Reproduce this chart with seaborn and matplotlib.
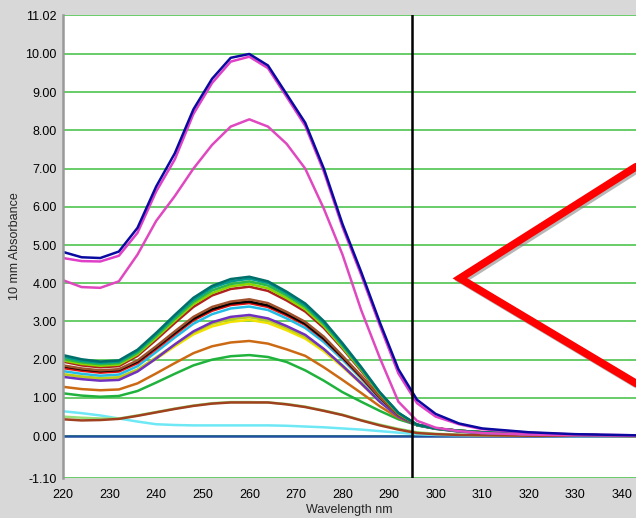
import numpy as np
import pandas as pd
import matplotlib
matplotlib.use("Agg")
import matplotlib.pyplot as plt
import matplotlib.patheffects as pe
import seaborn as sns

wavelength = [220, 224, 228, 232, 236, 240, 244, 248, 252, 256, 260, 264, 268,
              272, 276, 280, 284, 288, 292, 296, 300, 305, 310, 320, 330, 343]

baseline = [0.0] * 26
light_cyan = [0.65, 0.60, 0.54, 0.46, 0.38, 0.31, 0.29, 0.28, 0.28, 0.28, 0.28, 0.28, 0.27,
              0.25, 0.23, 0.20, 0.17, 0.13, 0.09, 0.05, 0.03, 0.02, 0.01, 0.01, 0.0, 0.0]
light_green = [0.51, 0.48, 0.46, 0.46, 0.54, 0.63, 0.72, 0.80, 0.86, 0.89, 0.89, 0.88, 0.84,
               0.77, 0.67, 0.56, 0.42, 0.30, 0.19, 0.10, 0.06, 0.04, 0.02, 0.01, 0.01, 0.0]
brown_low = [0.44, 0.41, 0.42, 0.45, 0.53, 0.62, 0.71, 0.79, 0.85, 0.88, 0.88, 0.88, 0.83,
             0.76, 0.66, 0.55, 0.41, 0.28, 0.17, 0.08, 0.05, 0.03, 0.02, 0.01, 0.01, 0.0]
green = [1.12, 1.06, 1.03, 1.05, 1.18, 1.40, 1.63, 1.85, 2.00, 2.09, 2.12, 2.07, 1.94,
         1.72, 1.45, 1.15, 0.90, 0.66, 0.44, 0.29, 0.19, 0.12, 0.08, 0.05, 0.03, 0.01]
orange = [1.29, 1.23, 1.20, 1.22, 1.38, 1.64, 1.91, 2.17, 2.35, 2.45, 2.49, 2.42, 2.27,
          2.10, 1.80, 1.47, 1.13, 0.78, 0.48, 0.30, 0.20, 0.13, 0.09, 0.05, 0.03, 0.01]
yellow = [1.62, 1.55, 1.50, 1.52, 1.72, 2.02, 2.35, 2.66, 2.87, 2.99, 3.04, 2.96, 2.77,
          2.55, 2.22, 1.81, 1.37, 0.90, 0.52, 0.29, 0.20, 0.13, 0.09, 0.05, 0.03, 0.01]
olive = [1.62, 1.56, 1.52, 1.54, 1.74, 2.06, 2.39, 2.71, 2.94, 3.06, 3.11, 3.03, 2.83,
         2.60, 2.27, 1.85, 1.40, 0.92, 0.52, 0.29, 0.20, 0.13, 0.09, 0.05, 0.03, 0.01]
purple = [1.55, 1.49, 1.45, 1.47, 1.69, 2.03, 2.40, 2.74, 2.98, 3.12, 3.17, 3.08, 2.88,
          2.65, 2.28, 1.84, 1.38, 0.90, 0.51, 0.28, 0.19, 0.12, 0.08, 0.05, 0.03, 0.01]
cyan = [1.70, 1.63, 1.58, 1.61, 1.83, 2.20, 2.58, 2.94, 3.19, 3.34, 3.39, 3.30, 3.08,
        2.83, 2.46, 2.00, 1.51, 0.98, 0.55, 0.29, 0.20, 0.13, 0.09, 0.05, 0.03, 0.01]
red = [1.78, 1.71, 1.66, 1.69, 1.91, 2.28, 2.66, 3.03, 3.28, 3.43, 3.48, 3.38, 3.16,
       2.91, 2.53, 2.05, 1.54, 1.00, 0.55, 0.29, 0.20, 0.13, 0.09, 0.05, 0.03, 0.01]
black = [1.83, 1.75, 1.70, 1.73, 1.95, 2.32, 2.70, 3.07, 3.32, 3.47, 3.52, 3.42, 3.20,
         2.94, 2.55, 2.07, 1.56, 1.01, 0.56, 0.30, 0.20, 0.14, 0.10, 0.06, 0.03, 0.01]
brown = [1.85, 1.77, 1.72, 1.75, 1.98, 2.35, 2.74, 3.12, 3.38, 3.52, 3.58, 3.48, 3.25,
         2.99, 2.60, 2.10, 1.58, 1.02, 0.56, 0.29, 0.20, 0.14, 0.10, 0.06, 0.03, 0.01]
dark_red = [1.95, 1.85, 1.80, 1.83, 2.10, 2.52, 2.96, 3.38, 3.68, 3.85, 3.91, 3.80, 3.55,
            3.26, 2.83, 2.29, 1.71, 1.09, 0.59, 0.29, 0.20, 0.14, 0.10, 0.06, 0.03, 0.01]
yellow_green = [1.98, 1.89, 1.84, 1.87, 2.14, 2.57, 3.02, 3.45, 3.74, 3.92, 3.98, 3.87, 3.61,
                3.32, 2.88, 2.32, 1.74, 1.11, 0.59, 0.29, 0.20, 0.14, 0.10, 0.06, 0.03, 0.01]
mid_green = [2.02, 1.93, 1.88, 1.91, 2.18, 2.62, 3.07, 3.51, 3.81, 3.98, 4.05, 3.94, 3.68,
             3.38, 2.93, 2.36, 1.76, 1.13, 0.60, 0.29, 0.20, 0.14, 0.10, 0.06, 0.03, 0.01]
sea_green = [2.08, 1.97, 1.92, 1.95, 2.23, 2.67, 3.13, 3.57, 3.88, 4.05, 4.12, 4.01, 3.74,
             3.43, 2.97, 2.40, 1.79, 1.14, 0.61, 0.29, 0.20, 0.13, 0.09, 0.05, 0.03, 0.01]
teal = [2.12, 2.01, 1.95, 1.98, 2.26, 2.70, 3.17, 3.62, 3.93, 4.11, 4.17, 4.05, 3.78,
        3.47, 3.01, 2.43, 1.81, 1.15, 0.61, 0.30, 0.20, 0.14, 0.10, 0.06, 0.03, 0.01]
magenta_low = [4.08, 3.90, 3.88, 4.05, 4.75, 5.63, 6.28, 7.00, 7.62, 8.10, 8.29, 8.10, 7.65,
               7.00, 5.95, 4.75, 3.30, 2.05, 0.90, 0.40, 0.22, 0.13, 0.08, 0.04, 0.02, 0.01]
magenta_high = [4.66, 4.58, 4.57, 4.72, 5.32, 6.40, 7.24, 8.43, 9.24, 9.80, 9.93, 9.63, 8.88,
                8.12, 6.92, 5.47, 4.22, 2.90, 1.64, 0.86, 0.51, 0.31, 0.18, 0.09, 0.04, 0.02]
navy = [4.82, 4.68, 4.66, 4.83, 5.45, 6.53, 7.40, 8.55, 9.35, 9.90, 10.00, 9.70, 8.95,
        8.20, 7.00, 5.55, 4.30, 2.98, 1.75, 0.95, 0.58, 0.33, 0.20, 0.10, 0.05, 0.02]

series = {
    "baseline": (baseline, "#1f4f9f"),
    "light_cyan": (light_cyan, "#6ee8f5"),
    "light_green": (light_green, "#98e07a"),
    "brown_low": (brown_low, "#a0401f"),
    "green": (green, "#1fb23c"),
    "orange": (orange, "#cc6a14"),
    "yellow": (yellow, "#f2e200"),
    "olive": (olive, "#b8cc1e"),
    "purple": (purple, "#7030c0"),
    "cyan": (cyan, "#22bce6"),
    "red": (red, "#e01010"),
    "black": (black, "#000000"),
    "brown": (brown, "#a0522d"),
    "dark_red": (dark_red, "#b02020"),
    "yellow_green": (yellow_green, "#8ed400"),
    "mid_green": (mid_green, "#2db84a"),
    "sea_green": (sea_green, "#009a90"),
    "teal": (teal, "#006e6a"),
    "magenta_low": (magenta_low, "#e048c0"),
    "magenta_high": (magenta_high, "#e040c8"),
    "navy": (navy, "#0a0aa0"),
}

frames = []
for name, (vals, _) in series.items():
    frames.append(pd.DataFrame({"wl": wavelength, "abs": vals, "curve": name}))
df = pd.concat(frames, ignore_index=True)
palette = {name: c for name, (_, c) in series.items()}

sns.set_style("white")
plt.rcParams['font.family'] = ['Liberation Sans', 'DejaVu Sans']

fig = plt.figure(figsize=(6.36, 5.18), dpi=100, facecolor="#d8d8d8")
ax = fig.add_axes([0.099, 0.077, 0.901, 0.894])
ax.set_facecolor("white")

ytick_vals = [-1.10, 0, 1, 2, 3, 4, 5, 6, 7, 8, 9, 10, 11.02]
ytick_labels = ["-1.10", "0.00", "1.00", "2.00", "3.00", "4.00", "5.00",
                "6.00", "7.00", "8.00", "9.00", "10.00", "11.02"]
for yv in ytick_vals:
    ax.axhline(yv, color="#5cc85c", lw=1.3, zorder=0.5)

sns.lineplot(data=df, x="wl", y="abs", hue="curve", hue_order=list(series.keys()),
             palette=palette, sort=False, estimator=None, lw=1.8, legend=False, ax=ax)

ax.axvline(295, color="black", lw=1.8, zorder=5)

# red annotation marker
ax.plot([343, 305.2, 343], [7.05, 4.13, 1.38], color="#ff0000", lw=5.5,
        solid_joinstyle="miter", zorder=6, clip_on=True,
        path_effects=[pe.SimpleLineShadow(offset=(1.5, -1.5), shadow_color="#888888", alpha=0.6),
                      pe.Normal()])

ax.set_xlim(220, 343)
ax.set_ylim(-1.10, 11.02)
ax.set_xticks(list(range(220, 341, 10)))
ax.set_yticks(ytick_vals)
ax.set_yticklabels(ytick_labels)
ax.tick_params(axis="both", labelsize=9, colors="#000000", length=4, width=1.2,
               color="#888888", direction="out")
ax.tick_params(axis="x", pad=4)
ax.tick_params(axis="y", pad=1.5, length=3)
ax.set_xlabel("Wavelength nm", fontsize=9, labelpad=2)
ax.set_ylabel("10 mm Absorbance", fontsize=9, labelpad=3)
for s in ["top", "right", "bottom"]:
    ax.spines[s].set_visible(False)
ax.spines["left"].set_color("#999999")
ax.spines["left"].set_linewidth(1.8)

fig.savefig("out.png", dpi=100, facecolor=fig.get_facecolor())
